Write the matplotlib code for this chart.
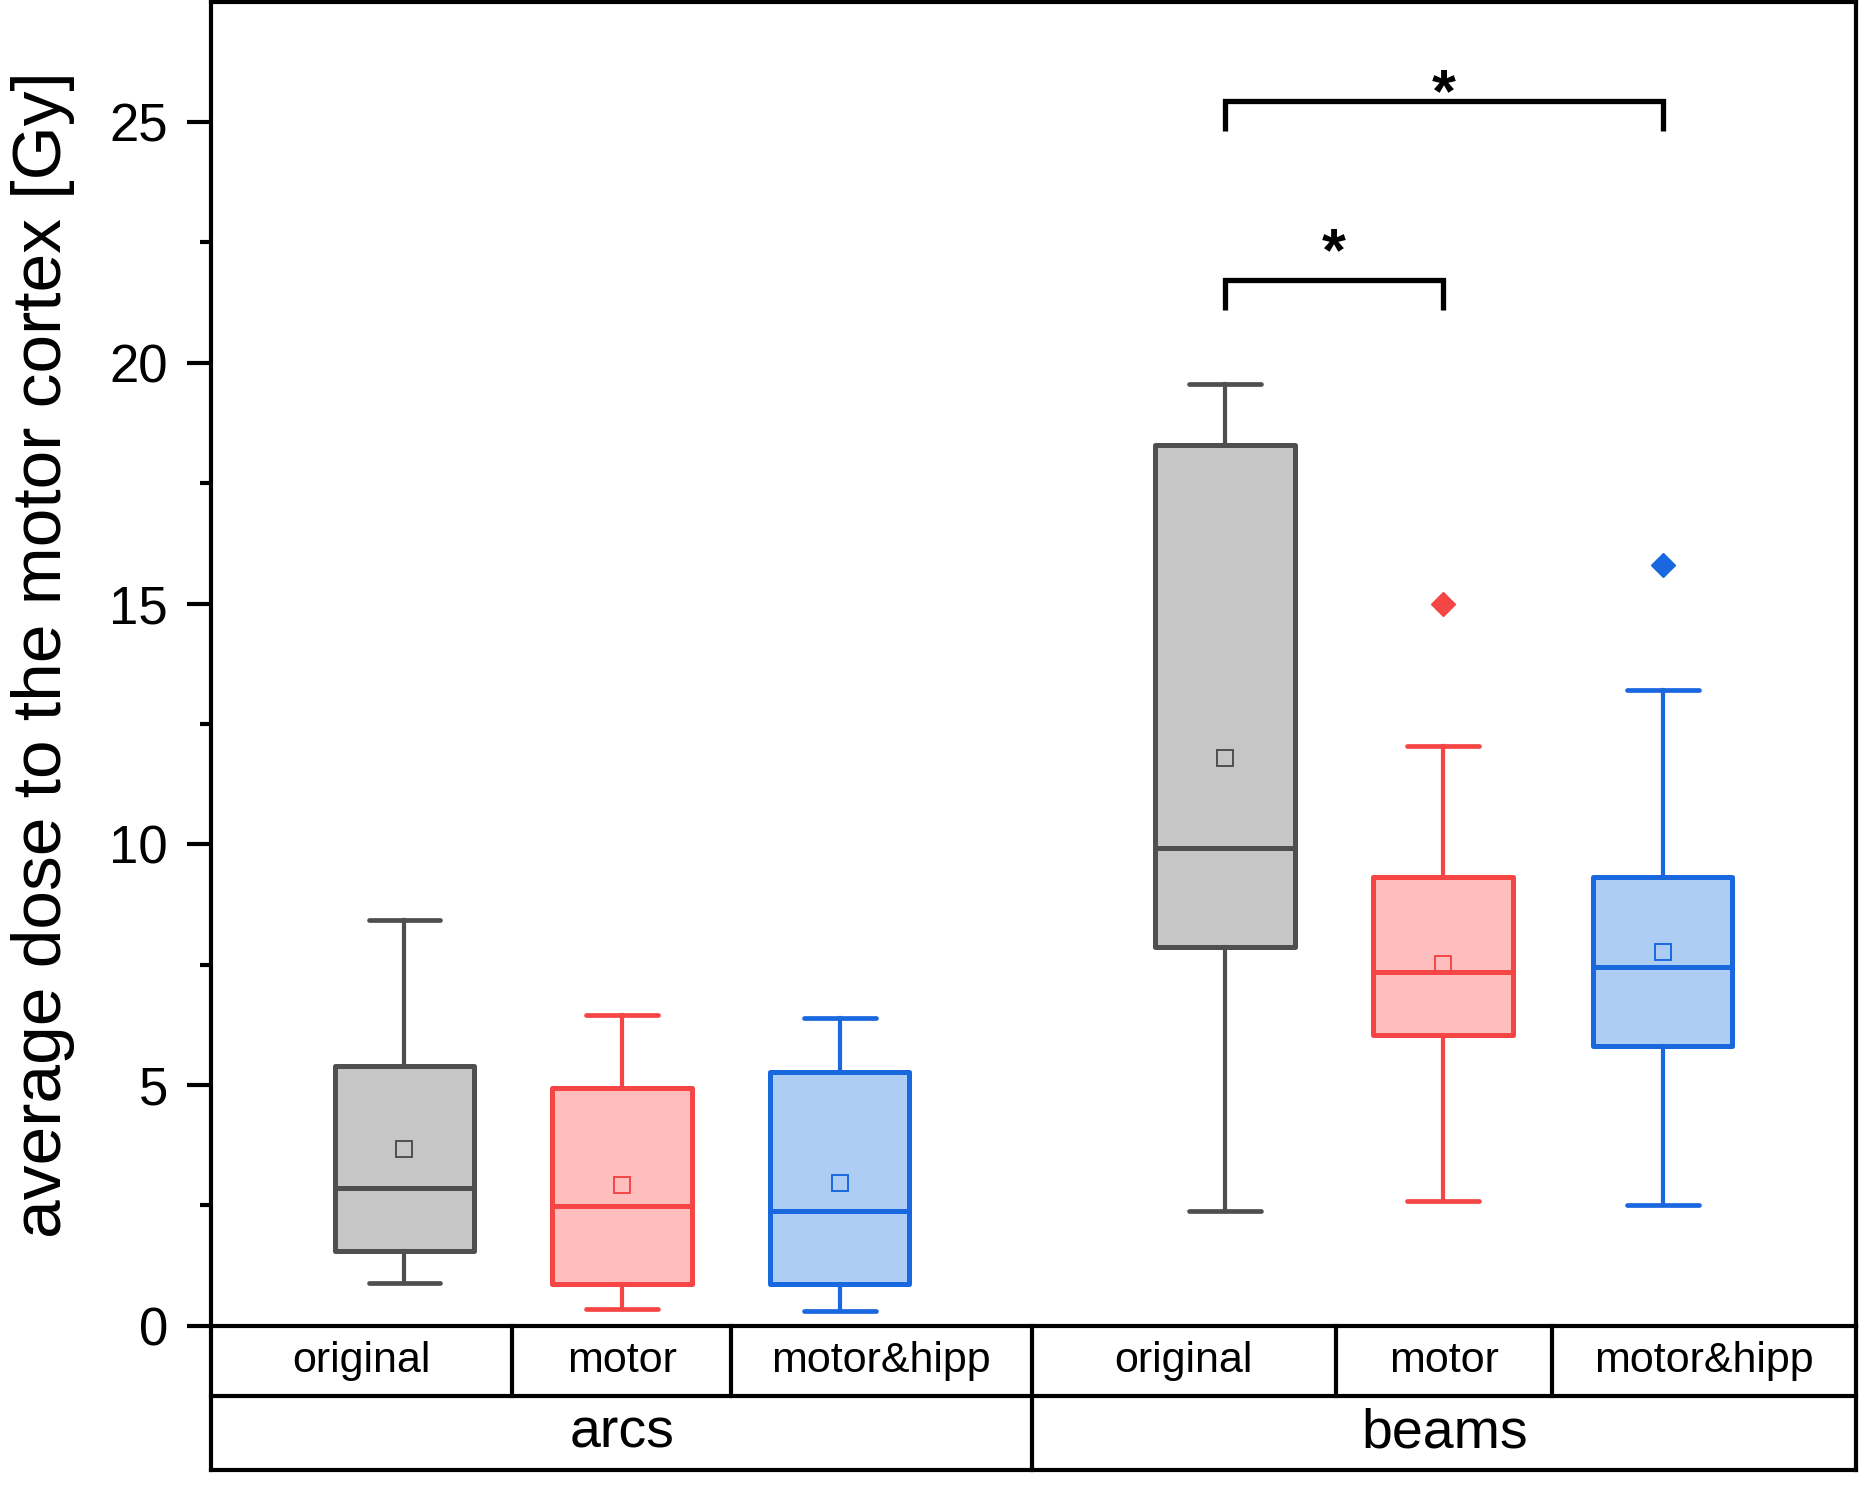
import numpy as np
import matplotlib
matplotlib.use("Agg")
import matplotlib.pyplot as plt
from matplotlib.ticker import MultipleLocator
from matplotlib.transforms import blended_transform_factory

plt.rcParams['font.family'] = ['Liberation Sans', 'DejaVu Sans']

grupos = ['arcs', 'beams']
metodos = ['original', 'motor', 'motor&hipp']

# orden: arcs (original, motor, motor&hipp), beams (original, motor, motor&hipp)
whis_lo = [0.89, 0.34, 0.30, 2.39, 2.59, 2.51]
q1 = [1.55, 0.86, 0.86, 7.86, 6.03, 5.81]
mediana = [2.86, 2.49, 2.39, 9.93, 7.34, 7.46]
q3 = [5.39, 4.93, 5.27, 18.30, 9.31, 9.31]
whis_hi = [8.42, 6.45, 6.40, 19.56, 12.04, 13.20]
media = [3.67, 2.93, 2.96, 11.80, 7.51, 7.76]
atipicos = [[], [], [], [], [15.0], [15.79]]

# pares significativos (caja a, caja b, altura corchete, altura asterisco)
pares = [(3, 4, 21.72, 22.50), (3, 5, 25.44, 25.80)]

pos = [1, 2, 3, 4.77, 5.77, 6.78]
bordes_celda = [1.496, 2.499, 5.278, 6.270]
borde_grupo = 3.883
xlim = (0.112, 7.670)

col_borde = ['#4f4f4f', '#f54545', '#1a68e0']
col_relleno = ['#c6c6c6', '#ffbebe', '#aecdf5']

fig = plt.figure(figsize=(18.6, 14.93), dpi=100)
ax = fig.add_axes([0.1135, 0.112, 0.8846, 0.8866])

for k in range(6):
    c = k % 3
    st = dict(med=mediana[k], q1=q1[k], q3=q3[k], whislo=whis_lo[k],
              whishi=whis_hi[k], mean=media[k], fliers=atipicos[k])
    ax.bxp([st], positions=[pos[k]], widths=0.64, capwidths=0.33,
           patch_artist=True, showmeans=True, showfliers=True,
           boxprops=dict(facecolor=col_relleno[c], edgecolor=col_borde[c],
                         linewidth=3.6, joinstyle='round'),
           whiskerprops=dict(color=col_borde[c], linewidth=3),
           capprops=dict(color=col_borde[c], linewidth=3.4, solid_capstyle='round'),
           medianprops=dict(color=col_borde[c], linewidth=3.6),
           meanprops=dict(marker='s', markerfacecolor='none', markeredgecolor=col_borde[c],
                          markersize=11, markeredgewidth=1.4),
           flierprops=dict(marker='D', markerfacecolor=col_borde[c], markeredgecolor=col_borde[c],
                           markersize=12),
           zorder=3)

# corchetes de significancia
for a, b, h, hs in pares:
    xa, xb = pos[a], pos[b]
    ax.plot([xa, xa, xb, xb], [h - 0.62, h, h, h - 0.62], color='k', lw=3.8,
            solid_joinstyle='miter', solid_capstyle='butt', zorder=4)
    ax.text((xa + xb) / 2, hs - 0.58, '*', ha='center', va='baseline',
            fontsize=44, fontweight='bold')

ax.set_xlim(*xlim)
ax.set_ylim(0, 27.49)
ax.set_xticks([])
ax.yaxis.set_major_locator(MultipleLocator(5))
ax.yaxis.set_minor_locator(MultipleLocator(2.5))
ax.tick_params(axis='y', which='major', direction='out', length=17, width=3,
               labelsize=38, pad=14)
ax.tick_params(axis='y', which='minor', direction='out', length=8, width=3)
for s in ax.spines.values():
    s.set_linewidth(3)

ax.set_ylabel('average dose to the motor cortex [Gy]', fontsize=50)
ax.yaxis.set_label_coords(-0.083, 0.507)

# tabla de categorias bajo el eje
tr = blended_transform_factory(ax.transData, ax.transAxes)
y1, y2 = -0.0529, -0.1093
kw = dict(color='k', lw=3, clip_on=False, solid_capstyle='projecting')
ax.plot([0, 1], [y1, y1], transform=ax.transAxes, **kw)
ax.plot([0, 1], [y2, y2], transform=ax.transAxes, **kw)
ax.plot([0, 0], [0, y2], transform=ax.transAxes, **kw)
ax.plot([1, 1], [0, y2], transform=ax.transAxes, **kw)
for xb in bordes_celda:
    ax.plot([xb, xb], [0, y1], transform=tr, **kw)
ax.plot([borde_grupo, borde_grupo], [0, y2], transform=tr, **kw)

celdas = [xlim[0], bordes_celda[0], bordes_celda[1], borde_grupo,
          bordes_celda[2], bordes_celda[3], xlim[1]]
for i in range(6):
    xc = (celdas[i] + celdas[i + 1]) / 2
    ax.text(xc, (0 + y1) / 2, metodos[i % 3], transform=tr, ha='center',
            va='center', fontsize=31)
ax.text((xlim[0] + borde_grupo) / 2, (y1 + y2) / 2, grupos[0], transform=tr,
        ha='center', va='center', fontsize=40)
ax.text((borde_grupo + xlim[1]) / 2, (y1 + y2) / 2, grupos[1], transform=tr,
        ha='center', va='center', fontsize=40)

fig.savefig('out.png', dpi=100)
